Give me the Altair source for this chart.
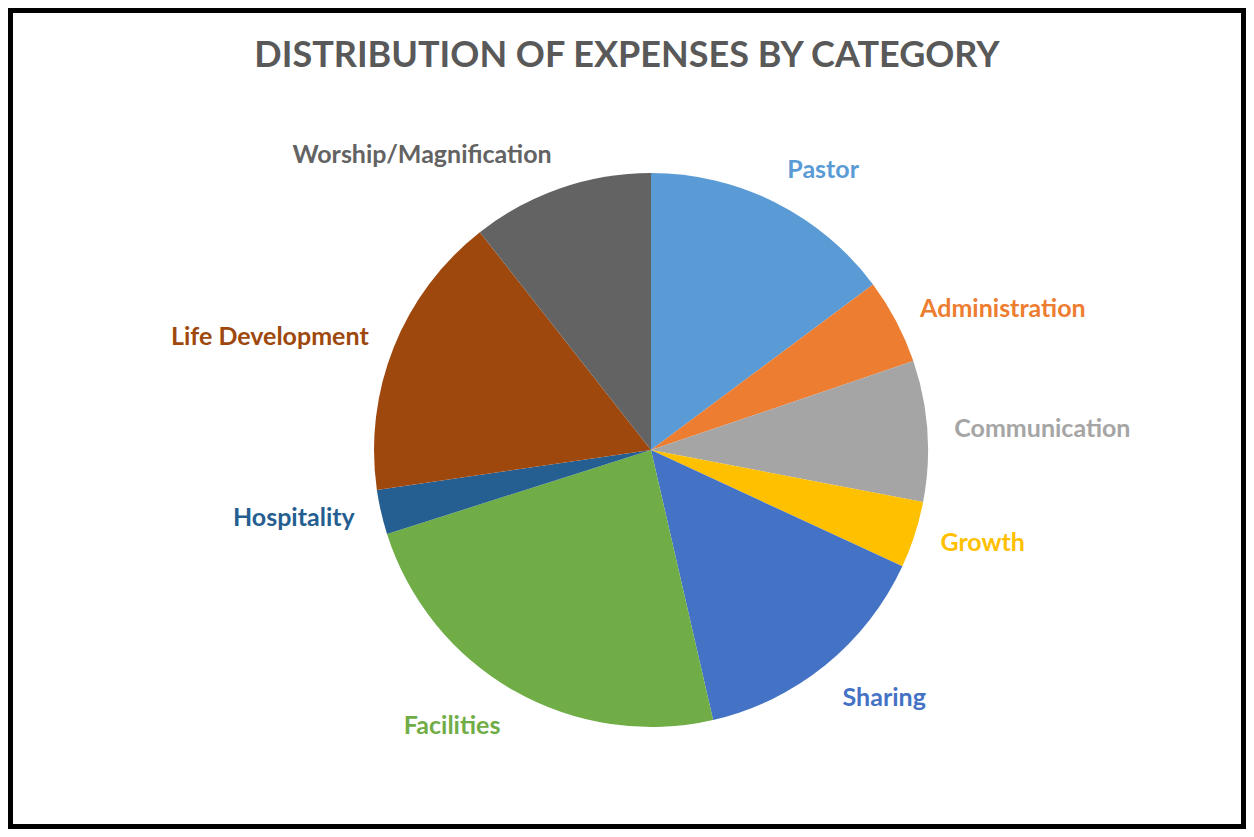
import altair as alt
import pandas as pd

categories = ["Pastor", "Administration", "Communication", "Growth", "Sharing",
              "Facilities", "Hospitality", "Life Development", "Worship/Magnification"]
shares = [14.8, 5.0, 8.2, 3.9, 14.5, 23.7, 2.6, 16.7, 10.6]
colors = ["#5B9BD5", "#ED7D31", "#A5A5A5", "#FFC000", "#4472C4",
          "#70AD47", "#255E91", "#9E480E", "#636363"]

df = pd.DataFrame({"category": categories, "share": shares, "idx": list(range(len(categories)))})

W, H = 1238, 821
CX, CY = 643, 442
R = 277
LABEL_R = 304
FONT = "Lato"

color_scale = alt.Scale(domain=categories, range=colors)
theta_scale = alt.Scale(domain=[0, 360], range=[0, 6.283185307179586])

base = alt.Chart(df).transform_joinaggregate(
    total="sum(share)"
).transform_window(
    cum="sum(share)", sort=[alt.SortField("idx")], frame=[None, 0]
).transform_calculate(
    start="(datum.cum - datum.share) / datum.total * 360",
    end="datum.cum / datum.total * 360",
).transform_calculate(
    mid="(datum.start + datum.end) / 2"
).transform_calculate(
    s="sin(datum.mid * PI / 180)",
    c="cos(datum.mid * PI / 180)",
).transform_calculate(
    ha="datum.s > 0.2 ? 'left' : (datum.s < -0.2 ? 'right' : 'center')",
    va="datum.c > 0.5 ? 'alphabetic' : (datum.c < -0.5 ? 'top' : 'middle')",
)

arcs = base.mark_arc(outerRadius=R).encode(
    theta=alt.Theta("start:Q", scale=theta_scale),
    theta2="end:Q",
    color=alt.Color("category:N", scale=color_scale, legend=None),
    x=alt.value(CX),
    y=alt.value(CY),
)

layers = [arcs]
for ha in ["left", "center", "right"]:
    for va in ["top", "middle", "alphabetic"]:
        t = base.mark_text(
            align=ha, baseline=va, font=FONT, fontSize=25, fontWeight="bold"
        ).encode(
            theta=alt.Theta("mid:Q", scale=theta_scale, stack=False),
            radius=alt.value(LABEL_R),
            x=alt.value(CX),
            y=alt.value(CY),
            color=alt.Color("category:N", scale=color_scale, legend=None),
            text=alt.condition(
                f"datum.ha == '{ha}' && datum.va == '{va}'",
                alt.Text("category:N"),
                alt.value(""),
            ),
        )
        layers.append(t)

chart = alt.layer(*layers).properties(
    width=W,
    height=H,
    autosize=alt.AutoSizeParams(type="none"),
    padding=0,
    title=alt.TitleParams(
        "DISTRIBUTION OF EXPENSES BY CATEGORY",
        font=FONT, fontSize=36, fontWeight="bold", color="#595959",
        anchor="middle", offset=-95, baseline="alphabetic",
    ),
).configure(
    background="white",
    view=alt.ViewConfig(stroke="black", strokeWidth=10),
)

chart.save("out.html", embed_options={"renderer": "svg", "actions": False})
